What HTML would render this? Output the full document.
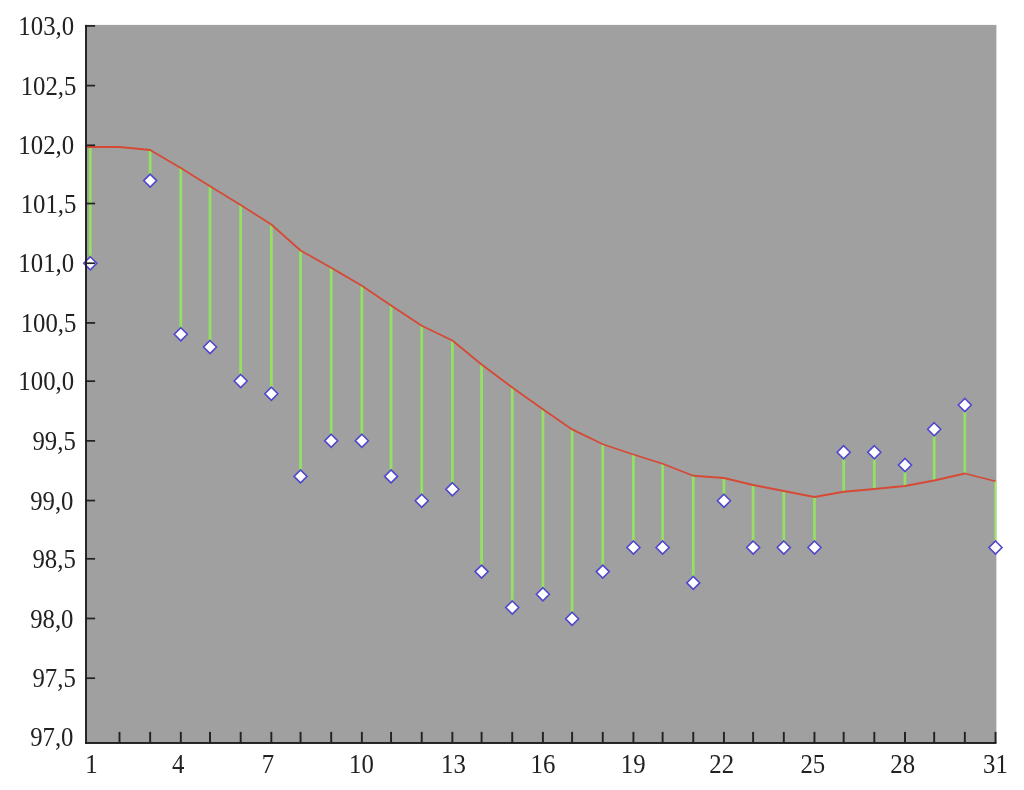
<!DOCTYPE html>
<html lang="en">
<head>
<meta charset="utf-8">
<title>Chart</title>
<style>
html,body{margin:0;padding:0;background:#fff;}
body{width:1024px;height:790px;overflow:hidden;}
svg{display:block;}
text{font-family:"Liberation Serif",serif;font-size:26.5px;fill:#202020;}
</style>
</head>
<body>
<svg width="1024" height="790" viewBox="0 0 1024 790">
<defs><filter id="soft" x="-2%" y="-2%" width="104%" height="104%"><feGaussianBlur stdDeviation="0.6"/></filter></defs>
<rect x="0" y="0" width="1024" height="790" fill="#ffffff"/>
<g filter="url(#soft)">
<rect x="85" y="24.9" width="911.4" height="719.1" fill="#a0a0a0"/>
<g stroke="#94e062" stroke-width="2.8" fill="none">
<line x1="90.30" y1="147.00" x2="90.30" y2="263.25"/>
<line x1="150.16" y1="150.00" x2="150.16" y2="180.60"/>
<line x1="180.82" y1="168.00" x2="180.82" y2="334.25"/>
<line x1="210.02" y1="186.25" x2="210.02" y2="347.00"/>
<line x1="240.68" y1="205.00" x2="240.68" y2="381.00"/>
<line x1="271.34" y1="224.50" x2="271.34" y2="393.75"/>
<line x1="300.54" y1="250.50" x2="300.54" y2="476.40"/>
<line x1="331.20" y1="267.75" x2="331.20" y2="440.75"/>
<line x1="361.86" y1="285.75" x2="361.86" y2="440.75"/>
<line x1="391.06" y1="305.50" x2="391.06" y2="476.40"/>
<line x1="421.72" y1="325.75" x2="421.72" y2="500.75"/>
<line x1="452.38" y1="340.50" x2="452.38" y2="489.25"/>
<line x1="481.58" y1="364.50" x2="481.58" y2="571.60"/>
<line x1="512.24" y1="387.50" x2="512.24" y2="607.50"/>
<line x1="542.90" y1="409.25" x2="542.90" y2="594.25"/>
<line x1="572.10" y1="429.40" x2="572.10" y2="618.75"/>
<line x1="602.76" y1="444.25" x2="602.76" y2="571.60"/>
<line x1="633.42" y1="454.50" x2="633.42" y2="547.50"/>
<line x1="662.62" y1="463.75" x2="662.62" y2="547.50"/>
<line x1="693.28" y1="475.75" x2="693.28" y2="582.90"/>
<line x1="723.94" y1="478.00" x2="723.94" y2="500.75"/>
<line x1="753.14" y1="485.00" x2="753.14" y2="547.50"/>
<line x1="783.80" y1="491.00" x2="783.80" y2="547.50"/>
<line x1="814.46" y1="497.00" x2="814.46" y2="547.50"/>
<line x1="843.66" y1="491.75" x2="843.66" y2="452.25"/>
<line x1="874.32" y1="489.00" x2="874.32" y2="452.25"/>
<line x1="904.98" y1="486.00" x2="904.98" y2="465.00"/>
<line x1="934.18" y1="480.50" x2="934.18" y2="429.25"/>
<line x1="964.84" y1="473.50" x2="964.84" y2="405.00"/>
<line x1="995.50" y1="481.25" x2="995.50" y2="547.50" stroke-width="2" stroke="#a2e66a"/>
</g>
<polyline points="87.0,147.00 90.30,147.00 119.50,147.00 150.16,150.00 180.82,168.00 210.02,186.25 240.68,205.00 271.34,224.50 300.54,250.50 331.20,267.75 361.86,285.75 391.06,305.50 421.72,325.75 452.38,340.50 481.58,364.50 512.24,387.50 542.90,409.25 572.10,429.40 602.76,444.25 633.42,454.50 662.62,463.75 693.28,475.75 723.94,478.00 753.14,485.00 783.80,491.00 814.46,497.00 843.66,491.75 874.32,489.00 904.98,486.00 934.18,480.50 964.84,473.50 995.50,481.25" fill="none" stroke="#d64a36" stroke-width="1.8" stroke-linejoin="round"/>
<g fill="#ffffff" stroke="#4f46cc" stroke-width="1.6">
<polygon points="90.30,256.75 96.80,263.25 90.30,269.75 83.80,263.25"/>
<polygon points="150.16,174.10 156.66,180.60 150.16,187.10 143.66,180.60"/>
<polygon points="180.82,327.75 187.32,334.25 180.82,340.75 174.32,334.25"/>
<polygon points="210.02,340.50 216.52,347.00 210.02,353.50 203.52,347.00"/>
<polygon points="240.68,374.50 247.18,381.00 240.68,387.50 234.18,381.00"/>
<polygon points="271.34,387.25 277.84,393.75 271.34,400.25 264.84,393.75"/>
<polygon points="300.54,469.90 307.04,476.40 300.54,482.90 294.04,476.40"/>
<polygon points="331.20,434.25 337.70,440.75 331.20,447.25 324.70,440.75"/>
<polygon points="361.86,434.25 368.36,440.75 361.86,447.25 355.36,440.75"/>
<polygon points="391.06,469.90 397.56,476.40 391.06,482.90 384.56,476.40"/>
<polygon points="421.72,494.25 428.22,500.75 421.72,507.25 415.22,500.75"/>
<polygon points="452.38,482.75 458.88,489.25 452.38,495.75 445.88,489.25"/>
<polygon points="481.58,565.10 488.08,571.60 481.58,578.10 475.08,571.60"/>
<polygon points="512.24,601.00 518.74,607.50 512.24,614.00 505.74,607.50"/>
<polygon points="542.90,587.75 549.40,594.25 542.90,600.75 536.40,594.25"/>
<polygon points="572.10,612.25 578.60,618.75 572.10,625.25 565.60,618.75"/>
<polygon points="602.76,565.10 609.26,571.60 602.76,578.10 596.26,571.60"/>
<polygon points="633.42,541.00 639.92,547.50 633.42,554.00 626.92,547.50"/>
<polygon points="662.62,541.00 669.12,547.50 662.62,554.00 656.12,547.50"/>
<polygon points="693.28,576.40 699.78,582.90 693.28,589.40 686.78,582.90"/>
<polygon points="723.94,494.25 730.44,500.75 723.94,507.25 717.44,500.75"/>
<polygon points="753.14,541.00 759.64,547.50 753.14,554.00 746.64,547.50"/>
<polygon points="783.80,541.00 790.30,547.50 783.80,554.00 777.30,547.50"/>
<polygon points="814.46,541.00 820.96,547.50 814.46,554.00 807.96,547.50"/>
<polygon points="843.66,445.75 850.16,452.25 843.66,458.75 837.16,452.25"/>
<polygon points="874.32,445.75 880.82,452.25 874.32,458.75 867.82,452.25"/>
<polygon points="904.98,458.50 911.48,465.00 904.98,471.50 898.48,465.00"/>
<polygon points="934.18,422.75 940.68,429.25 934.18,435.75 927.68,429.25"/>
<polygon points="964.84,398.50 971.34,405.00 964.84,411.50 958.34,405.00"/>
<polygon points="995.50,541.00 1002.00,547.50 995.50,554.00 989.00,547.50"/>
</g>
<g fill="#202020">
<rect x="85.1" y="24.9" width="1.9" height="719.1"/>
<rect x="85.1" y="742" width="911.3" height="1.9"/>
<rect x="85.1" y="25.05" width="10" height="1.7"/>
<rect x="85.1" y="84.75" width="10" height="1.7"/>
<rect x="85.1" y="144.44" width="10" height="1.7"/>
<rect x="85.1" y="202.68" width="10" height="1.7"/>
<rect x="85.1" y="262.38" width="10" height="1.7"/>
<rect x="85.1" y="322.07" width="10" height="1.7"/>
<rect x="85.1" y="380.31" width="10" height="1.7"/>
<rect x="85.1" y="440.01" width="10" height="1.7"/>
<rect x="85.1" y="499.71" width="10" height="1.7"/>
<rect x="85.1" y="557.95" width="10" height="1.7"/>
<rect x="85.1" y="617.64" width="10" height="1.7"/>
<rect x="85.1" y="677.34" width="10" height="1.7"/>
<rect x="118.55" y="731.9" width="1.9" height="11.1"/>
<rect x="149.21" y="731.9" width="1.9" height="11.1"/>
<rect x="179.87" y="731.9" width="1.9" height="11.1"/>
<rect x="209.07" y="731.9" width="1.9" height="11.1"/>
<rect x="239.73" y="731.9" width="1.9" height="11.1"/>
<rect x="270.39" y="731.9" width="1.9" height="11.1"/>
<rect x="299.59" y="731.9" width="1.9" height="11.1"/>
<rect x="330.25" y="731.9" width="1.9" height="11.1"/>
<rect x="360.91" y="731.9" width="1.9" height="11.1"/>
<rect x="390.11" y="731.9" width="1.9" height="11.1"/>
<rect x="420.77" y="731.9" width="1.9" height="11.1"/>
<rect x="451.43" y="731.9" width="1.9" height="11.1"/>
<rect x="480.63" y="731.9" width="1.9" height="11.1"/>
<rect x="511.29" y="731.9" width="1.9" height="11.1"/>
<rect x="541.95" y="731.9" width="1.9" height="11.1"/>
<rect x="571.15" y="731.9" width="1.9" height="11.1"/>
<rect x="601.81" y="731.9" width="1.9" height="11.1"/>
<rect x="632.47" y="731.9" width="1.9" height="11.1"/>
<rect x="661.67" y="731.9" width="1.9" height="11.1"/>
<rect x="692.33" y="731.9" width="1.9" height="11.1"/>
<rect x="722.99" y="731.9" width="1.9" height="11.1"/>
<rect x="752.19" y="731.9" width="1.9" height="11.1"/>
<rect x="782.85" y="731.9" width="1.9" height="11.1"/>
<rect x="813.51" y="731.9" width="1.9" height="11.1"/>
<rect x="842.71" y="731.9" width="1.9" height="11.1"/>
<rect x="873.37" y="731.9" width="1.9" height="11.1"/>
<rect x="904.03" y="731.9" width="1.9" height="11.1"/>
<rect x="933.23" y="731.9" width="1.9" height="11.1"/>
<rect x="963.89" y="731.9" width="1.9" height="11.1"/>
<rect x="994.55" y="731.9" width="1.9" height="11.1"/>
</g>
<g text-anchor="end">
<text transform="translate(74.10,35.10) scale(0.935,1)">103,0</text>
<text transform="translate(76.40,94.80) scale(0.935,1)">102,5</text>
<text transform="translate(74.10,154.49) scale(0.935,1)">102,0</text>
<text transform="translate(76.40,212.73) scale(0.935,1)">101,5</text>
<text transform="translate(74.10,272.43) scale(0.935,1)">101,0</text>
<text transform="translate(76.40,332.12) scale(0.935,1)">100,5</text>
<text transform="translate(74.10,390.36) scale(0.935,1)">100,0</text>
<text transform="translate(75.80,450.06) scale(0.935,1)">99,5</text>
<text transform="translate(73.50,509.76) scale(0.935,1)">99,0</text>
<text transform="translate(75.80,568.00) scale(0.935,1)">98,5</text>
<text transform="translate(73.50,627.69) scale(0.935,1)">98,0</text>
<text transform="translate(75.80,687.39) scale(0.935,1)">97,5</text>
<text transform="translate(73.50,745.63) scale(0.935,1)">97,0</text>
</g>
<g text-anchor="middle">
<text transform="translate(91.40,773) scale(0.935,1)">1</text>
<text transform="translate(178.22,773) scale(0.935,1)">4</text>
<text transform="translate(267.84,773) scale(0.935,1)">7</text>
<text transform="translate(361.46,773) scale(0.935,1)">10</text>
<text transform="translate(453.38,773) scale(0.935,1)">13</text>
<text transform="translate(543.00,773) scale(0.935,1)">16</text>
<text transform="translate(633.12,773) scale(0.935,1)">19</text>
<text transform="translate(721.64,773) scale(0.935,1)">22</text>
<text transform="translate(812.86,773) scale(0.935,1)">25</text>
<text transform="translate(902.68,773) scale(0.935,1)">28</text>
<text transform="translate(995.40,773) scale(0.935,1)">31</text>
</g>
</g>
</svg>
</body>
</html>
